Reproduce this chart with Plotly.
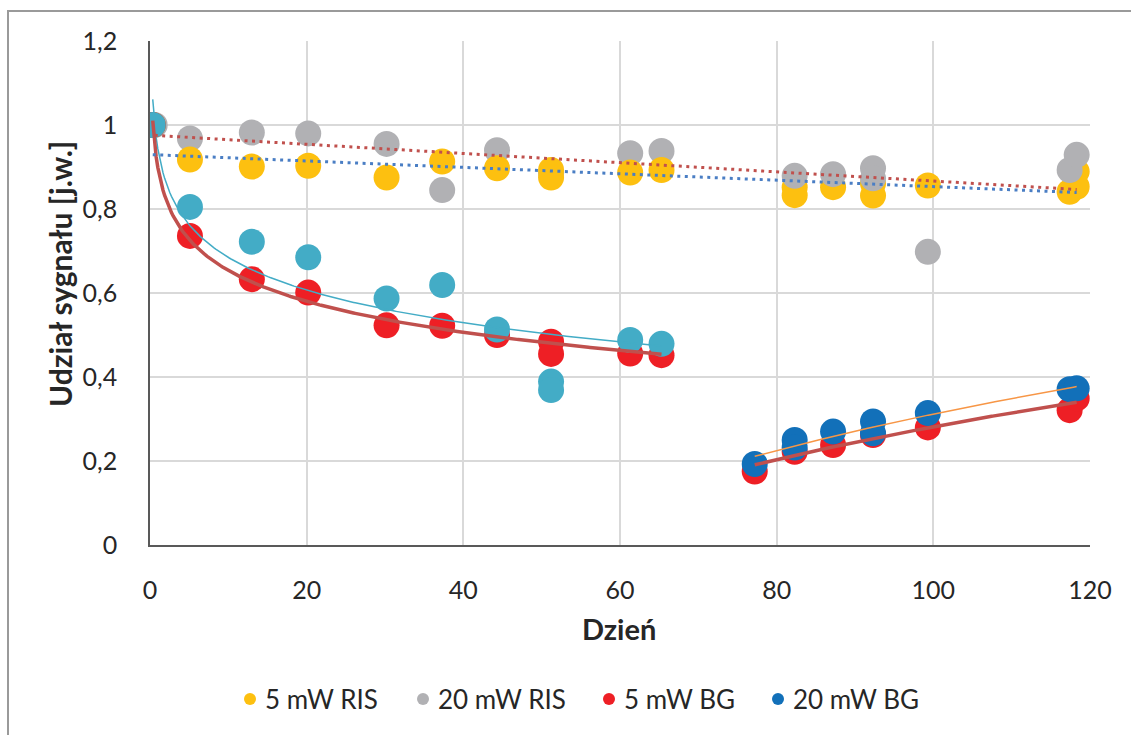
import numpy as np
import plotly.graph_objects as go

# ---- measured signal shares (day, value) ----
ris5_early_x = [0.35, 5.1, 13.0, 20.2, 30.2, 37.3, 44.3, 51.2, 51.2, 61.3, 65.3]
ris5_early_y = [1.0, 0.918, 0.901, 0.903, 0.875, 0.913, 0.897, 0.893, 0.875, 0.887, 0.893]
ris20_early_x = [0.6, 5.1, 13.0, 20.2, 30.2, 37.3, 44.3, 51.2, 61.3, 65.3]
ris20_early_y = [1.0, 0.968, 0.982, 0.980, 0.955, 0.845, 0.940, 0.885, 0.933, 0.938]

ris5_late_x = [82.3, 82.3, 87.2, 92.3, 92.3, 99.3, 117.4, 118.3, 118.3]
ris5_late_y = [0.852, 0.833, 0.852, 0.861, 0.832, 0.856, 0.841, 0.889, 0.853]
ris20_late_x = [82.3, 87.2, 92.3, 92.3, 99.3, 117.4, 118.3]
ris20_late_y = [0.879, 0.883, 0.897, 0.873, 0.698, 0.893, 0.929]

bg5_early_x = [0.35, 5.1, 13.0, 20.2, 30.2, 37.3, 44.3, 51.2, 51.2, 61.3, 65.3]
bg5_early_y = [1.0, 0.736, 0.633, 0.601, 0.523, 0.522, 0.500, 0.484, 0.455, 0.456, 0.452]
bg20_early_x = [0.35, 5.1, 13.0, 20.2, 30.2, 37.3, 44.3, 51.2, 51.2, 61.3, 65.3]
bg20_early_y = [1.0, 0.805, 0.722, 0.685, 0.587, 0.619, 0.513, 0.389, 0.369, 0.488, 0.479]

bg5_late_x = [77.2, 82.3, 87.2, 92.3, 99.3, 117.4, 118.3]
bg5_late_y = [0.175, 0.222, 0.238, 0.262, 0.280, 0.321, 0.349]
bg20_late_x = [77.2, 82.3, 82.3, 87.2, 92.3, 92.3, 99.3, 117.4, 118.3]
bg20_late_y = [0.193, 0.250, 0.232, 0.270, 0.294, 0.266, 0.314, 0.371, 0.373]

x_ticks = [0, 20, 40, 60, 80, 100, 120]
y_ticks = [0, 0.2, 0.4, 0.6, 0.8, 1.0, 1.2]

legend_labels = ["5 mW RIS", "20 mW RIS", "5 mW BG", "20 mW BG"]

YELLOW = "#FDC010"
GRAY = "#B1B1B4"
RED = "#EE1F25"
CYAN = "#43ACC6"
BLUE = "#1270B9"
legend_colors = [YELLOW, GRAY, RED, BLUE]

FONT = "Lato"
TXT = "#262626"
MS = 26

fig = go.Figure()


def scatter(x, y, color, name):
    fig.add_trace(go.Scatter(
        x=x, y=y, mode="markers", name=name, showlegend=False,
        marker=dict(size=MS, color=color, line=dict(width=0)),
    ))


scatter(ris20_early_x, ris20_early_y, GRAY, "20 mW RIS")
scatter(ris5_early_x, ris5_early_y, YELLOW, "5 mW RIS")
scatter(ris5_late_x, ris5_late_y, YELLOW, "5 mW RIS")
scatter(ris20_late_x, ris20_late_y, GRAY, "20 mW RIS")
scatter(bg5_early_x, bg5_early_y, RED, "5 mW BG")
scatter(bg20_early_x, bg20_early_y, CYAN, "20 mW BG")
scatter(bg5_late_x, bg5_late_y, RED, "5 mW BG")
scatter(bg20_late_x, bg20_late_y, BLUE, "20 mW BG")


# ---- trendlines fitted to the data ----
def log_trend(x, y):
    b, a = np.polyfit(np.log(x), y, 1)
    xs = np.linspace(min(x), max(x), 300)
    return xs, a + b * np.log(xs)


def lin_trend(x, y):
    b, a = np.polyfit(x, y, 1)
    xs = np.linspace(min(x), max(x), 50)
    return xs, a + b * xs


def trend(xs, ys, color, width, dash="solid"):
    fig.add_trace(go.Scatter(
        x=xs, y=ys, mode="lines", showlegend=False, hoverinfo="skip",
        line=dict(color=color, width=width, dash=dash),
    ))


trend(*log_trend(bg20_early_x, bg20_early_y), CYAN, 1.5)
trend(*log_trend(bg5_early_x, bg5_early_y), "#C0504D", 3.5)
trend(*log_trend(bg20_late_x, bg20_late_y), "#F79646", 1.5)
trend(*log_trend(bg5_late_x, bg5_late_y), "#C0504D", 3.5)
trend(*lin_trend(ris20_early_x + ris20_late_x, ris20_early_y + ris20_late_y),
      "#C0504D", 3, "3px,4.5px")
trend(*lin_trend(ris5_early_x + ris5_late_x, ris5_early_y + ris5_late_y),
      "#4A7EC4", 3, "3px,4.5px")

# plot area in pixels: left 150, right 1090, top 41, bottom 545
W, H = 1131, 735
L, R, T, B = 150, 1090, 41, 545
pw, ph = R - L, B - T


def px_x(p):
    return (p - L) / pw


def px_y(p):
    return (B - p) / ph


annotations = [
    dict(text="<b>Dzień</b>", xref="paper", yref="paper",
         x=px_x(619), y=px_y(628), showarrow=False,
         font=dict(family=FONT, size=29, color=TXT), xanchor="center", yanchor="middle"),
    dict(text="<b>Udział sygnału [j.w.]</b>", xref="paper", yref="paper",
         x=px_x(60), y=px_y(274), showarrow=False, textangle=-90,
         font=dict(family=FONT, size=30, color=TXT), xanchor="center", yanchor="middle"),
]
shapes = [
    dict(type="rect", xref="paper", yref="paper",
         x0=px_x(8), x1=px_x(1160), y0=px_y(11), y1=px_y(760),
         line=dict(color="#9A9A9A", width=2), fillcolor="rgba(0,0,0,0)",
         layer="below"),
]

# legend row: coloured dot followed by label
legend_dot_px = [250, 423, 609, 778]
legend_y_px = 699
for cx, color, label in zip(legend_dot_px, legend_colors, legend_labels):
    r = 6
    shapes.append(dict(
        type="circle", xref="paper", yref="paper",
        x0=px_x(cx - r), x1=px_x(cx + r), y0=px_y(legend_y_px + r), y1=px_y(legend_y_px - r),
        fillcolor=color, line=dict(width=0),
    ))
    annotations.append(dict(
        text=label, xref="paper", yref="paper",
        x=px_x(cx + 13), y=px_y(legend_y_px), xanchor="left", yanchor="middle",
        showarrow=False, font=dict(family=FONT, size=26, color=TXT),
    ))

fig.update_layout(
    width=W, height=H,
    margin=dict(l=L, r=W - R, t=T, b=H - B),
    paper_bgcolor="white", plot_bgcolor="white",
    separators=", ",
    font=dict(family=FONT, size=25, color=TXT),
    xaxis=dict(
        range=[0, 120], tickvals=x_ticks, ticks="", showgrid=True,
        gridcolor="#D9D9D9", gridwidth=1.5, zeroline=False,
        showline=True, linecolor="#595959", linewidth=1.5,
        ticklabelstandoff=22, tickfont=dict(family=FONT, size=25, color=TXT),
    ),
    yaxis=dict(
        range=[0, 1.2], tickvals=y_ticks, ticks="", showgrid=True,
        gridcolor="#D9D9D9", gridwidth=1.5, zeroline=False,
        showline=True, linecolor="#595959", linewidth=1.5,
        ticklabelstandoff=26, tickfont=dict(family=FONT, size=25, color=TXT),
    ),
    showlegend=False,
    annotations=annotations,
    shapes=shapes,
)

fig.write_html("out.html")
